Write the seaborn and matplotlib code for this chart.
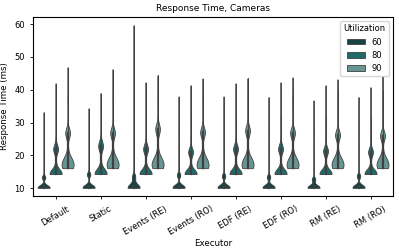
import numpy as np
import pandas as pd
import matplotlib
matplotlib.use("Agg")
import matplotlib.pyplot as plt
import seaborn as sns

# =========================
# DATA (value, count) clusters
# =========================

executors = ["Default", "Static", "Events (RE)", "Events (RO)",
             "EDF (RE)", "EDF (RO)", "RM (RE)", "RM (RO)"]

utilizations = ["60", "80", "90"]

u60 = [
    [(10.1, 250), (10.8, 100), (13.3, 90), (16, 5), (20, 3), (25, 2), (33.2, 1)],
    [(10.1, 250), (10.8, 100), (14.2, 90), (17, 5), (21, 3), (26, 2), (34.4, 1)],
    [(10.1, 250), (10.8, 100), (13.4, 90), (16, 5), (22, 3), (35, 2), (59.7, 1)],
    [(10.1, 250), (10.8, 100), (14.0, 90), (17, 5), (22, 3), (28, 2), (38.0, 1)],
    [(10.1, 250), (10.8, 100), (13.7, 90), (17, 5), (22, 3), (28, 2), (38.0, 1)],
    [(10.1, 250), (10.8, 100), (13.4, 90), (17, 5), (22, 3), (28, 2), (37.8, 1)],
    [(10.1, 250), (10.8, 100), (12.7, 90), (16, 5), (21, 3), (27, 2), (36.8, 1)],
    [(10.1, 250), (10.8, 100), (13.7, 90), (17, 5), (22, 3), (28, 2), (37.8, 1)],
]

u80 = [
    [(14.3, 200), (15.0, 80), (17.5, 15), (21.9, 110), (25, 10), (32.0, 8), (36, 2), (42.0, 1)],
    [(14.3, 200), (15.0, 80), (18.0, 15), (22.8, 110), (26, 10), (33.8, 8), (36, 2), (39.0, 1)],
    [(14.3, 200), (15.0, 80), (17.5, 15), (21.9, 110), (25, 10), (31.6, 8), (36, 2), (42.3, 1)],
    [(14.3, 200), (15.0, 80), (17.5, 15), (21.0, 110), (25, 10), (31.0, 8), (36, 2), (41.4, 1)],
    [(14.3, 200), (15.0, 80), (17.5, 15), (21.9, 110), (25, 10), (31.0, 8), (36, 2), (42.0, 1)],
    [(14.3, 200), (15.0, 80), (17.5, 15), (21.9, 110), (25, 10), (31.0, 8), (36, 2), (42.3, 1)],
    [(14.3, 200), (15.0, 80), (17.5, 15), (21.3, 110), (25, 10), (31.0, 8), (36, 2), (41.4, 1)],
    [(14.3, 200), (15.0, 80), (17.5, 15), (21.0, 110), (25, 10), (31.0, 8), (36, 2), (40.8, 1)],
]

u90 = [
    [(16.1, 150), (17.6, 130), (19.2, 90), (22.0, 15), (26.8, 110), (31, 6), (36.8, 12), (40, 2), (46.9, 1)],
    [(16.1, 150), (17.6, 130), (19.2, 90), (22.0, 15), (26.8, 110), (31, 6), (37.7, 12), (40, 2), (46.3, 1)],
    [(16.1, 150), (17.6, 130), (19.2, 90), (22.5, 15), (28.0, 110), (32, 6), (37.0, 12), (40, 2), (44.4, 1)],
    [(16.1, 150), (17.6, 130), (19.2, 90), (22.0, 15), (27.0, 110), (31, 6), (36.0, 12), (40, 2), (43.5, 1)],
    [(16.1, 150), (17.6, 130), (19.2, 90), (22.5, 15), (27.5, 110), (31, 6), (36.0, 12), (40, 2), (43.5, 1)],
    [(16.1, 150), (17.6, 130), (19.2, 90), (22.0, 15), (26.8, 110), (31, 6), (36.0, 12), (40, 2), (43.8, 1)],
    [(16.1, 150), (17.6, 130), (19.2, 90), (22.0, 15), (26.2, 110), (31, 6), (36.0, 12), (40, 2), (43.2, 1)],
    [(16.1, 150), (17.6, 130), (19.2, 90), (22.0, 15), (26.0, 110), (31, 6), (36.0, 12), (40, 2), (44.1, 1)],
]

colors = ["#0f4c4a", "#137876", "#5f9d9b"]

# =========================
# BUILD LONG TABLE
# =========================

rows = []
for util, groups in zip(utilizations, [u60, u80, u90]):
    for ex, clusters in zip(executors, groups):
        for value, count in clusters:
            rows += [(ex, util, value)] * count

df = pd.DataFrame(rows, columns=["Executor", "Utilization", "Response Time (ms)"])

# =========================
# PLOT
# =========================

fig, ax = plt.subplots(figsize=(3.99, 2.5), dpi=100)

sns.violinplot(
    data=df,
    x="Executor",
    y="Response Time (ms)",
    hue="Utilization",
    order=executors,
    hue_order=utilizations,
    palette=colors,
    cut=0,
    density_norm="width",
    linewidth=0.6,
    linecolor=".25",
    inner_kws=dict(box_width=1.6, whis_width=0.6, marker="None"),
    ax=ax
)

ax.set_title("Response Time, Cameras", fontsize=6.5, pad=4)
ax.set_xlabel("Executor", fontsize=6.2, labelpad=1)
ax.set_ylabel("Response Time (ms)", fontsize=6.2)
ax.tick_params(axis="both", labelsize=6, length=2.5, width=0.6)
plt.setp(ax.get_xticklabels(), rotation=30, ha="center")
for s in ax.spines.values():
    s.set_linewidth(0.8)

leg = ax.legend(title="Utilization", loc="upper right", fontsize=6,
                title_fontsize=6, handlelength=2.2, handleheight=0.6)

plt.subplots_adjust(left=0.083, right=0.985, bottom=0.216, top=0.932)

plt.savefig("out.png", dpi=100)
